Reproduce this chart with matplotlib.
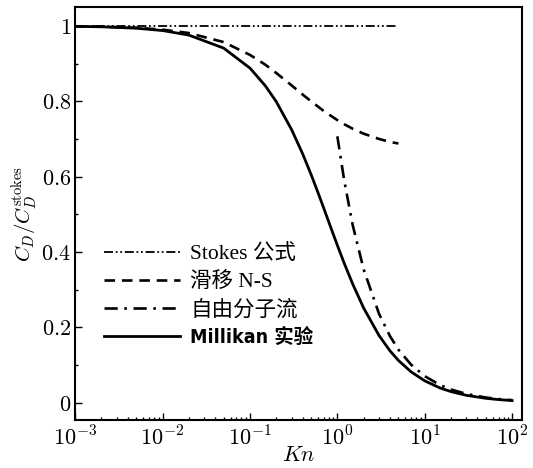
import matplotlib
matplotlib.use('Agg')
import matplotlib.pyplot as plt
from matplotlib.ticker import FixedLocator, FixedFormatter, MultipleLocator, LogLocator

plt.rcParams['mathtext.fontset'] = 'cm'

# Stokes 公式
kn_stokes = [1e-3, 5.0]
cd_stokes = [1.0, 1.0]

# 滑移 N-S
kn_slip = [1e-3, 2e-3, 5e-3, 0.01, 0.02, 0.05, 0.1, 0.15, 0.2, 0.3, 0.4, 0.5,
           0.6, 0.7, 0.8, 1.0, 1.2, 1.5, 2.0, 3.0, 4.0, 5.0]
cd_slip = [0.999, 0.998, 0.995, 0.990, 0.981, 0.957, 0.923, 0.897, 0.875, 0.842, 0.818, 0.800,
           0.786, 0.774, 0.765, 0.750, 0.739, 0.727, 0.714, 0.700, 0.692, 0.688]

# 自由分子流
kn_fm = [1.0, 1.2, 1.5, 2.0, 3.0, 4.0, 5.0, 7.0, 10.0, 15.0, 20.0, 30.0, 50.0, 70.0, 100.0]
cd_fm = [0.707, 0.589, 0.471, 0.354, 0.236, 0.177, 0.141, 0.101, 0.0707, 0.0471, 0.0354,
         0.0236, 0.0141, 0.0101, 0.0071]

# Millikan 实验
kn_mil = [1e-3, 2e-3, 5e-3, 0.01, 0.02, 0.05, 0.1, 0.15, 0.2, 0.3, 0.4, 0.5, 0.6, 0.7, 0.8,
          1.0, 1.2, 1.5, 2.0, 3.0, 4.0, 5.0, 7.0, 10.0, 15.0, 20.0, 30.0, 50.0, 70.0, 100.0]
cd_mil = [0.9987, 0.9975, 0.9938, 0.9876, 0.9755, 0.941, 0.888, 0.841, 0.799, 0.7245, 0.661,
          0.606, 0.558, 0.516, 0.479, 0.418, 0.370, 0.315, 0.2515, 0.1785, 0.138, 0.1125,
          0.082, 0.0583, 0.0393, 0.0297, 0.0199, 0.012, 0.0086, 0.006]

labels = ['Stokes 公式', '滑移 N-S', '自由分子流', 'Millikan 实验']

y_ticks = [0, 0.2, 0.4, 0.6, 0.8, 1.0]
y_ticklabels = ['$0$', '$0.2$', '$0.4$', '$0.6$', '$0.8$', '$1$']
x_ticks = [1e-3, 1e-2, 1e-1, 1e0, 1e1, 1e2]
x_ticklabels = ['$10^{-3}$', '$10^{-2}$', '$10^{-1}$', '$10^{0}$', '$10^{1}$', '$10^{2}$']

fig = plt.figure(figsize=(5.33, 4.68), dpi=100)
ax = fig.add_axes([0.141, 0.103, 0.838, 0.882])

ax.plot(kn_stokes, cd_stokes, color='black', lw=1.3, dashes=[5, 1.5, 1, 1.5, 1, 1.5],
        label=labels[0])
ax.plot(kn_slip, cd_slip, color='black', lw=1.9, dashes=[4, 2.6], label=labels[1])
ax.plot(kn_fm, cd_fm, color='black', lw=1.9, dashes=[5, 2.5, 1, 2.5], label=labels[2])
ax.plot(kn_mil, cd_mil, color='black', lw=2.0, label=labels[3])

ax.set_xscale('log')
ax.set_xlim(1e-3, 129)
ax.set_ylim(-0.045, 1.05)

ax.xaxis.set_major_locator(FixedLocator(x_ticks))
ax.xaxis.set_major_formatter(FixedFormatter(x_ticklabels))
ax.xaxis.set_minor_locator(LogLocator(base=10, subs=range(2, 10), numticks=20))
ax.xaxis.set_minor_formatter(FixedFormatter([]))
ax.yaxis.set_major_locator(FixedLocator(y_ticks))
ax.yaxis.set_major_formatter(FixedFormatter(y_ticklabels))
ax.yaxis.set_minor_locator(MultipleLocator(0.1))

ax.tick_params(which='both', direction='in', labelsize=16, width=1.0)
ax.tick_params(which='major', length=5)
ax.tick_params(which='minor', length=2.5)
ax.tick_params(axis='y', pad=3)
ax.tick_params(axis='x', pad=4)
for sp in ax.spines.values():
    sp.set_linewidth(1.5)

ax.set_xlabel('$Kn$', fontsize=16, labelpad=-3)
ax.set_ylabel('$C_D/C_D^{\\rm stokes}$', fontsize=15, labelpad=2)

leg = ax.legend(loc='upper left', bbox_to_anchor=(0.065, 0.425), frameon=False,
                fontsize=15.5, handlelength=3.5, handletextpad=0.5, labelspacing=0.36,
                borderpad=0, borderaxespad=0)
for i, t in enumerate(leg.get_texts()):
    if i == 3:
        t.set_family(['DejaVu Sans', 'Noto Sans CJK SC'])
        t.set_stretch('condensed')
        t.set_weight('bold')
        t.set_fontsize(14)
    else:
        t.set_family(['Liberation Serif', 'Noto Sans CJK SC'])
        t.set_weight('medium')

fig.savefig('out.png', dpi=100)
